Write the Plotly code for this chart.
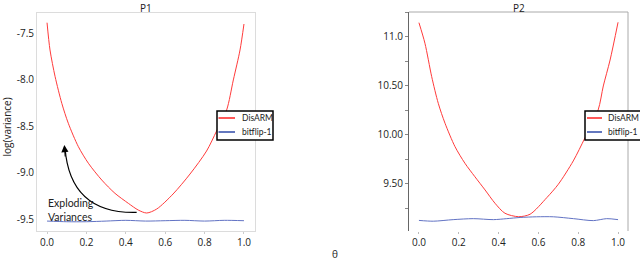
import plotly.graph_objects as go

W, H = 640, 262

# ---- data ----
p1_disarm_theta = [0.0, 0.015, 0.041, 0.075, 0.108, 0.159, 0.210, 0.278, 0.345, 0.413, 0.463, 0.506,
                   0.557, 0.64, 0.726, 0.81, 0.861, 0.912, 0.946, 0.98, 1.0]
p1_disarm_val = [-7.384, -7.678, -7.966, -8.253, -8.468, -8.720, -8.899, -9.080, -9.223, -9.331, -9.403, -9.435,
                 -9.392, -9.23, -9.015, -8.767, -8.551, -8.325, -8.001, -7.678, -7.398]
p1_bitflip_theta = [0.0, 0.1, 0.2, 0.3, 0.4, 0.5, 0.6, 0.7, 0.8, 0.9, 1.0]
p1_bitflip_val = [-9.522, -9.529, -9.529, -9.522, -9.514, -9.522, -9.518, -9.514, -9.522, -9.514, -9.518]

p2_disarm_theta = [0.0, 0.030, 0.064, 0.097, 0.131, 0.181, 0.231, 0.281, 0.332, 0.382, 0.432, 0.500,
                   0.558, 0.642, 0.70, 0.775, 0.834, 0.90, 0.926, 0.96, 1.0]
p2_disarm_val = [11.146, 10.936, 10.595, 10.323, 10.119, 9.881, 9.711, 9.574, 9.439, 9.303, 9.201, 9.166,
                 9.191, 9.36, 9.497, 9.735, 9.972, 10.255, 10.5, 10.765, 11.15]
p2_bitflip_theta = [0.0, 0.072, 0.172, 0.273, 0.374, 0.441, 0.508, 0.591, 0.675, 0.776, 0.876, 0.943, 1.0]
p2_bitflip_val = [9.128, 9.120, 9.136, 9.146, 9.136, 9.146, 9.158, 9.165, 9.165, 9.146, 9.126, 9.146, 9.136]

x_ticks = [0.0, 0.2, 0.4, 0.6, 0.8, 1.0]
x_ticktext = ["0.0", "0.2", "0.4", "0.6", "0.8", "1.0"]
p1_y_ticks = [-7.5, -8.0, -8.5, -9.0, -9.5]
p1_y_ticktext = ["-7.5", "-8.0", "-8.5", "-9.0", "-9.5"]
p2_y_ticks = [11.0, 10.5, 10.0, 9.5]
p2_y_ticktext = ["11.0", "10.50", "10.00", "9.50"]
series_names = ["DisARM", "bitflip-1"]

RED = "#ff3b3b"
BLUE = "#6273c4"
LEG_RED = "#ff2020"
LEG_BLUE = "#2f4aa8"
FONT = "Open Sans"
TXT = "#222222"


def px(x):
    return x / W


def py(y):
    return 1 - y / H


fig = go.Figure()
line_kw = dict(width=1, shape="spline", smoothing=0.8)
fig.add_trace(go.Scatter(x=p1_disarm_theta, y=p1_disarm_val, mode="lines", name=series_names[0],
                         line=dict(color=RED, **line_kw), xaxis="x", yaxis="y"))
fig.add_trace(go.Scatter(x=p1_bitflip_theta, y=p1_bitflip_val, mode="lines", name=series_names[1],
                         line=dict(color=BLUE, **line_kw), xaxis="x", yaxis="y"))
fig.add_trace(go.Scatter(x=p2_disarm_theta, y=p2_disarm_val, mode="lines", name=series_names[0],
                         line=dict(color=RED, **line_kw), xaxis="x2", yaxis="y2"))
fig.add_trace(go.Scatter(x=p2_bitflip_theta, y=p2_bitflip_val, mode="lines", name=series_names[1],
                         line=dict(color=BLUE, **line_kw), xaxis="x2", yaxis="y2"))

tickfont = dict(family=FONT, size=10, color=TXT)

fig.update_layout(
    width=W, height=H,
    margin=dict(l=0, r=0, t=0, b=0),
    paper_bgcolor="white", plot_bgcolor="white",
    showlegend=False,
    xaxis=dict(domain=[px(37), px(255)], range=[-0.051, 1.056], tickvals=x_ticks, ticktext=x_ticktext,
               tickfont=tickfont, showgrid=False, zeroline=False, showline=True, linecolor="#dcdcdc",
               linewidth=1, mirror=True, ticks="outside", ticklen=2, tickcolor="#cccccc", anchor="y"),
    yaxis=dict(domain=[py(231), py(12.5)], range=[-9.629, -7.274], tickvals=p1_y_ticks,
               ticktext=p1_y_ticktext, tickfont=tickfont, showgrid=False, zeroline=False,
               showline=True, linecolor="#dcdcdc", linewidth=1, mirror=True, ticks="", anchor="x"),
    xaxis2=dict(domain=[px(409), px(628)], range=[-0.05, 1.05], tickvals=x_ticks, ticktext=x_ticktext,
                tickfont=tickfont, showgrid=False, zeroline=False, showline=False,
                ticks="outside", ticklen=2, tickcolor="#bbbbbb", anchor="y2"),
    yaxis2=dict(domain=[py(231), py(12)], range=[9.02, 11.255], tickvals=p2_y_ticks,
                ticktext=p2_y_ticktext, tickfont=tickfont, showgrid=False, zeroline=False,
                showline=True, linecolor="#666666", linewidth=1, ticks="outside", ticklen=3,
                tickcolor="#888888",
                minor=dict(dtick=0.25, tick0=9.5, ticks="outside", ticklen=3, tickcolor="#888888"),
                anchor="x2"),
)

# frame lines of second panel (top and right)
fig.add_shape(type="line", xref="x2 domain", yref="y2 domain", x0=0, x1=1, y0=1, y1=1,
              line=dict(color="#aaaaaa", width=1))
fig.add_shape(type="line", xref="x2 domain", yref="y2 domain", x0=1, x1=1, y0=0, y1=1,
              line=dict(color="#aaaaaa", width=1))


def add_legend(x0, x1, sample0, sample1, text_x):
    fig.add_shape(type="rect", xref="paper", yref="paper", x0=px(x0), x1=px(x1), y0=py(140), y1=py(111),
                  fillcolor="white", line=dict(color="black", width=1.5), layer="above")
    for name, col, yy in [(series_names[0], LEG_RED, 118), (series_names[1], LEG_BLUE, 132)]:
        fig.add_shape(type="line", xref="paper", yref="paper", x0=px(sample0), x1=px(sample1),
                      y0=py(yy), y1=py(yy), line=dict(color=col, width=1.5), layer="above")
        fig.add_annotation(x=px(text_x), y=py(yy), xref="paper", yref="paper", text=name,
                           xanchor="left", yanchor="middle", showarrow=False, borderpad=0,
                           font=dict(family="Lato", size=8.5, color=TXT))


add_legend(217, 273, 218.5, 235, 241)
add_legend(585, 646, 587, 602, 607)

# curved arrow "Exploding Variances"
fig.add_shape(type="path", xref="x", yref="y",
              path="M 0.455,-9.428 Q 0.117,-9.446 0.0914,-8.734",
              line=dict(color="black", width=1.2))
fig.add_annotation(x=0.0878, y=-8.702, xref="x", yref="y", ax=1.0, ay=13,
                   text="", showarrow=True, arrowhead=2, arrowsize=1.3, arrowwidth=1.1,
                   arrowcolor="black")
fig.add_annotation(x=px(47), y=py(210), xref="paper", yref="paper", xanchor="left", yanchor="middle",
                   text="Exploding<br>Variances", align="left", showarrow=False, borderpad=0,
                   font=dict(family="Lato", size=10.5, color=TXT))

# titles
fig.add_annotation(x=px(146), y=py(0), xref="paper", yref="paper", text="P1", showarrow=False,
                   borderpad=0, font=dict(family=FONT, size=10, color=TXT), xanchor="center", yanchor="top")
fig.add_annotation(x=px(519), y=py(0), xref="paper", yref="paper", text="P2", showarrow=False,
                   borderpad=0, font=dict(family=FONT, size=10, color=TXT), xanchor="center", yanchor="top")
fig.add_annotation(x=px(6.5), y=py(127), xref="paper", yref="paper", text="log(variance)",
                   textangle=-90, showarrow=False, borderpad=0, font=dict(family=FONT, size=10, color=TXT),
                   xanchor="center", yanchor="middle")
fig.add_annotation(x=px(335), y=py(262), xref="paper", yref="paper", text="θ", showarrow=False,
                   borderpad=0, font=dict(family=FONT, size=10, color=TXT), xanchor="center", yanchor="bottom")

fig.write_html("out.html", config={"displayModeBar": False},
               post_script="document.body.style.margin='0';")
